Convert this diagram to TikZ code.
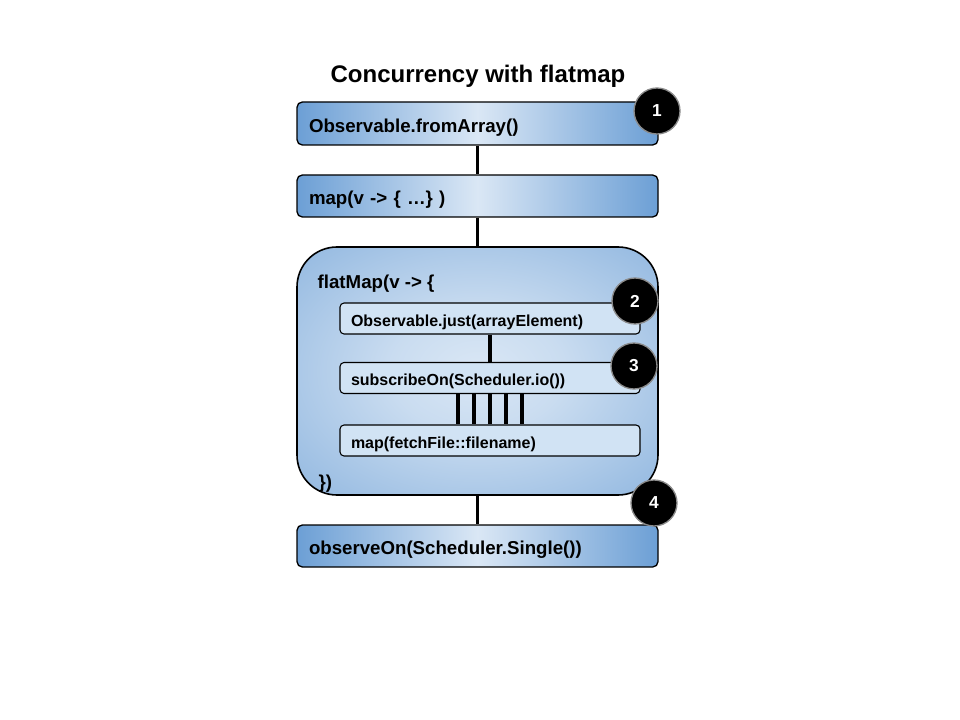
\documentclass[tikz,border=0pt]{standalone}
\usepackage{fontspec}
\setmainfont{Liberation Sans}
\usepackage{xcolor}
\usepackage{tikz}
\usetikzlibrary{positioning, calc}
\definecolor{stageblue}{HTML}{6C9FD5}
\definecolor{stagelight}{HTML}{DAE7F5}
\definecolor{opfill}{HTML}{D1E3F4}
\definecolor{markerrim}{HTML}{8A8A8A}
\pgfdeclareradialshading{lambdashade}{\pgfpoint{0bp}{0bp}}{%
  color(0bp)=(stagelight); color(12bp)=(stagelight!85!stageblue);
  color(52bp)=(stageblue); color(72bp)=(stageblue)}

\begin{document}
\begin{tikzpicture}[x=0.75pt, y=-0.75pt,
    stagebox/.style={draw=black, line width=1pt, rounded corners=4pt,
      left color=stageblue, right color=stageblue, middle color=stagelight,
      minimum width=270.75pt, minimum height=31.5pt, inner xsep=9pt,
      text height=13pt, text depth=0pt,
      text width=252.75pt, align=left, font=\bfseries\fontsize{14}{16}\selectfont},
    lambdabox/.style={draw=black, line width=1.2pt, rounded corners=30pt,
      shading=lambdashade, minimum width=270.75pt, minimum height=186pt},
    opbox/.style={draw=black, line width=0.8pt, rounded corners=3pt, fill=opfill,
      minimum width=225pt, minimum height=23.25pt, inner xsep=8.25pt,
      text height=11.5pt, text depth=0pt,
      text width=208.5pt, align=left, font=\bfseries\fontsize{12}{14}\selectfont},
    marker/.style={circle, fill=black, draw=markerrim, line width=1pt,
      minimum size=34.5pt, inner sep=0pt, text=white,
      font=\bfseries\fontsize{13}{15}\selectfont},
    link/.style={line width=2.3pt, draw=black}]
  \useasboundingbox (0,0) rectangle (960,720);

  \node[font=\bfseries\fontsize{18}{20}\selectfont] (title) at (478,76) {Concurrency with flatmap};

  % outer chain
  \node[stagebox, minimum height=32.25pt] (fromarray) at (477.5,123.5) {Observable.fromArray()};
  \node[stagebox] (mapv) at (477.5,196) {map(v -> \{ \dots\} )};
  \node[lambdabox] (flatmap) at (477.5,371) {};
  \node[stagebox] (observeon) at (477.5,546) {observeOn(Scheduler.Single())};

  \node[anchor=west, font=\bfseries\fontsize{14}{16}\selectfont] (flatopen) at (313,284) {flatMap(v -> \{};
  \node[anchor=west, font=\bfseries\fontsize{14}{16}\selectfont] (flatclose) at (314,484) {\})};

  % inside the flatMap
  \node[opbox] (just) at (490,318.5) {Observable.just(arrayElement)};
  \node[opbox] (subon) at (490,378) {subscribeOn(Scheduler.io())};
  \node[opbox] (fetch) at (490,440.5) {map(fetchFile::filename)};

  \draw[link] (fromarray) -- (mapv);
  \draw[link] (mapv) -- (flatmap);
  \draw[link] (flatmap) -- (observeon);
  \draw[link] (just) -- (subon);
  \foreach \dx in {-32,-16,0,16,32}
    \draw[link] ([xshift=\dx*0.75pt]subon.south) -- ([xshift=\dx*0.75pt]fetch.north);

  % numbered markers
  \node[marker] (m1) at (657,111) {1};
  \node[marker] (m2) at (635,301) {2};
  \node[marker] (m3) at (634,366) {3};
  \node[marker] (m4) at (654,503) {4};
\end{tikzpicture}
\end{document}
